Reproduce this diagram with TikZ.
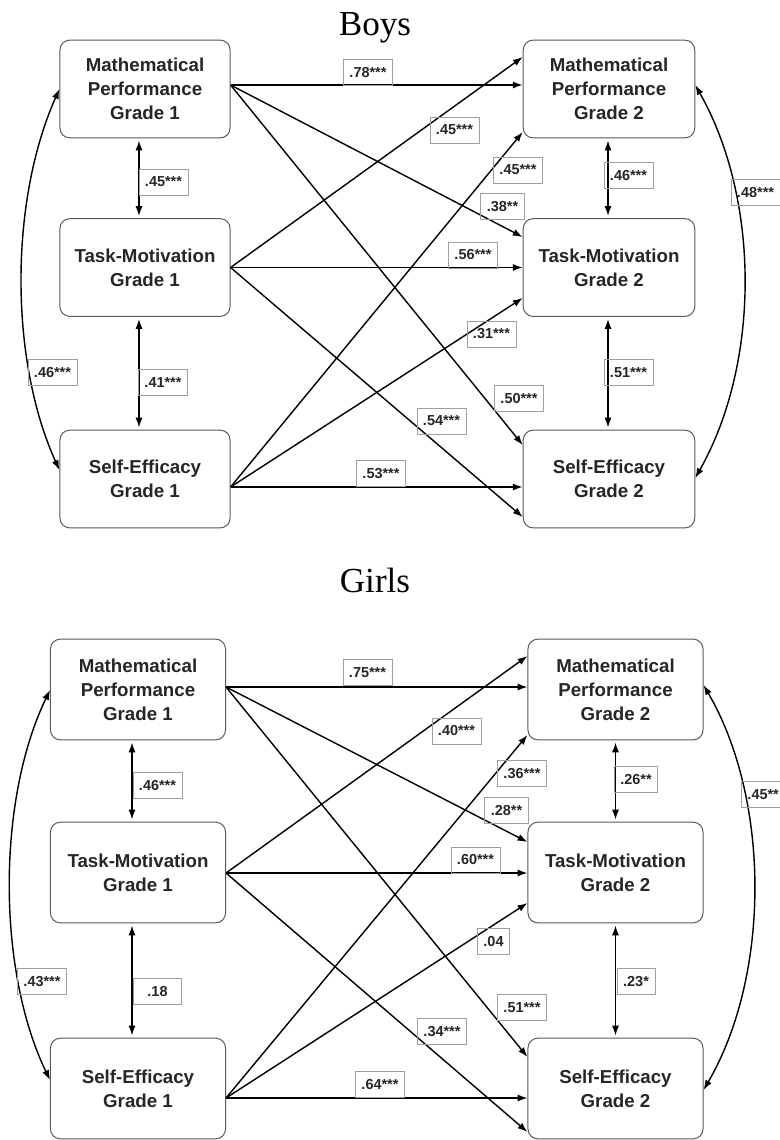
\documentclass[tikz,border=0pt]{standalone}
\usepackage{fontspec}
\setmainfont{Liberation Sans}
\newfontfamily\titleserif{Liberation Serif}
\usetikzlibrary{calc,arrows.meta}

\tikzset{
    var/.style = {draw = gray!70!black, line width = .7pt, rounded corners = 7pt, fill = white,
                  align = center, text = black!85, font = \bfseries\fontsize{13.3}{17}\selectfont},
    varb/.style = {var, minimum width = 121pt, minimum height = 69.5pt},
    varg/.style = {var, minimum width = 124.5pt, minimum height = 71.6pt},
    coef/.style = {draw = gray!75, line width = .6pt, inner xsep = 4.3pt, inner ysep = 0pt,
                   minimum height = 18.5pt, text = black!85, font = \bfseries\fontsize{10.3}{12}\selectfont},
    lag/.style = {->, line width = 1pt},
    cov/.style = {<->, line width = 1pt},
    grouptitle/.style = {anchor = base, font = \titleserif\fontsize{25}{30}\selectfont}
}

\begin{document}
\begin{tikzpicture}[x = 0.025cm, y = -0.025cm, >={Latex[length = 7pt, width = 5pt]}]
    \useasboundingbox (0, 0) rectangle (780, 1140);

    %%%%%%%%%% boys %%%%%%%%%%%%%%%%%%%
    \node [grouptitle] (boys) at (375, 35) {Boys};

    \node [varb] (mpa) at (145, 89) {Mathematical\\Performance\\Grade 1};
    \node [varb] (tma) at (145, 267.5) {Task-Motivation\\Grade 1};
    \node [varb] (sea) at (145, 479) {Self-Efficacy\\Grade 1};
    \node [varb, minimum width = 122pt] (mpb) at (609, 89) {Mathematical\\Performance\\Grade 2};
    \node [varb, minimum width = 122pt] (tmb) at (609, 267.5) {Task-Motivation\\Grade 2};
    \node [varb, minimum width = 122pt] (seb) at (609, 479) {Self-Efficacy\\Grade 2};

    % cross-lagged paths
    \foreach \s/\ds/\t/\dt in {mpa/-4/mpb/-4, tma/0/mpb/-32, sea/8/mpb/43,
                                mpa/-4/tmb/-30.5, tma/0/tmb/0, sea/8/tmb/30.5,
                                mpa/-4/seb/-34, tma/0/seb/38, sea/8/seb/8} {
        \draw [lag] ($(\s.east) + (0, \ds)$)  --  ($(\t.west) + (0, \dt)$);
        }

    % correlations
    \draw [cov, shorten <= 1.5pt, shorten >= 1.5pt] ($(mpa.south) + (-6, 0)$)  --  ($(tma.north) + (-6, 0)$);
    \draw [cov, shorten <= 1.5pt, shorten >= 1.5pt] ($(tma.south) + (-6, 0)$)  --  ($(sea.north) + (-6, 0)$);
    \draw [cov, shorten <= 1.5pt, shorten >= 1.5pt] ($(mpb.south) + (-1, 0)$)  --  ($(tmb.north) + (-1, 0)$);
    \draw [cov, shorten <= 1.5pt, shorten >= 1.5pt] ($(tmb.south) + (-1, 0)$)  --  ($(seb.north) + (-1, 0)$);
    \draw [cov] (mpa.west) .. controls +(-50, 112) and +(-50, -110) .. ($(sea.west) + (0, -9)$);
    \draw [cov] ($(mpb.east) + (0, -4)$) .. controls +(65, 115) and +(65, -115) .. ($(seb.east) + (0, -1)$);

    \foreach \x/\y/\t/\n in {368/72.5/.78***/b1, 454.5/130/.45***/b2, 518/170/.45***/b3,
                             502.5/206.5/.38**/b4, 473/255/.56***/b5, 491.5/334/.31***/b6,
                             519/398.5/.50***/b7, 441.5/421/.54***/b8, 381/473.5/.53***/b9,
                             628.5/175.5/.46***/b10, 628.5/372.5/.51***/b11, 163.5/182/.45***/b12,
                             163/382.5/.41***/b13, 52.5/372.5/.46***/b14, 755.5/192.5/.48***/b15} {
        \node [coef] (\n) at (\x, \y) {\t};
        }

    %%%%%%%%%% girls %%%%%%%%%%%%%%%%%%%
    \node [grouptitle] (girls) at (375, 592) {Girls};

    \node [varg] (mpc) at (138, 689.5) {Mathematical\\Performance\\Grade 1};
    \node [varg] (tmc) at (138, 872.5) {Task-Motivation\\Grade 1};
    \node [varg] (sec) at (138, 1088.5) {Self-Efficacy\\Grade 1};
    \node [varg] (mpd) at (615.5, 689.5) {Mathematical\\Performance\\Grade 2};
    \node [varg] (tmd) at (615.5, 872.5) {Task-Motivation\\Grade 2};
    \node [varg] (sed) at (615.5, 1088.5) {Self-Efficacy\\Grade 2};

    % cross-lagged paths
    \foreach \s/\ds/\t/\dt in {mpc/-2.5/mpd/-2.5, tmc/0.5/mpd/-33.5, sec/9.5/mpd/45.5,
                                mpc/-2.5/tmd/-30.5, tmc/0.5/tmd/0.5, sec/9.5/tmd/30.5,
                                mpc/-2.5/sed/-31.5, tmc/0.5/sed/43.5, sec/9.5/sed/9.5} {
        \draw [lag] ($(\s.east) + (0, \ds)$)  --  ($(\t.west) + (0, \dt)$);
        }

    % correlations
    \draw [cov, shorten <= 1.5pt, shorten >= 1.5pt] ($(mpc.south) + (-6, 0)$)  --  ($(tmc.north) + (-6, 0)$);
    \draw [cov, shorten <= 1.5pt, shorten >= 1.5pt] ($(tmc.south) + (-6, 0)$)  --  ($(sec.north) + (-6, 0)$);
    \draw [cov, shorten <= 1.5pt, shorten >= 1.5pt] (mpd.south)  --  (tmd.north);
    \draw [cov, shorten <= 1.5pt, shorten >= 1.5pt] (tmd.south)  --  (sed.north);
    \draw [cov] ($(mpc.west) + (0, 0.5)$) .. controls +(-53, 110) and +(-53, -110) .. ($(sec.west) + (0, -8.5)$);
    \draw [cov] ($(mpd.east) + (0, -4.5)$) .. controls +(67, 115) and +(67, -115) .. ($(sed.east) + (0, 1.5)$);

    \foreach \x/\y/\t/\n in {367.5/672.5/.75***/g1, 456.5/731/.40***/g2, 522/773.5/.36***/g3,
                             506.5/810.5/.28**/g4, 475.5/860/.60***/g5, 493.5/941.5/.04/g6,
                             522/1007.5/.51***/g7, 442/1031.5/.34***/g8, 380/1084/.64***/g9,
                             636/779.5/.26**/g10, 636/981.5/.23*/g11, 157.5/785.5/.46***/g12,
                             42/981.5/.43***/g14} {
        \node [coef] (\n) at (\x, \y) {\t};
        }
    \node [coef, minimum width = 34.7pt] (g13) at (157.5, 991.5) {.18};
    \node [coef, anchor = west] (g15) at (741, 794.5) {.45**};
\end{tikzpicture}
\end{document}
